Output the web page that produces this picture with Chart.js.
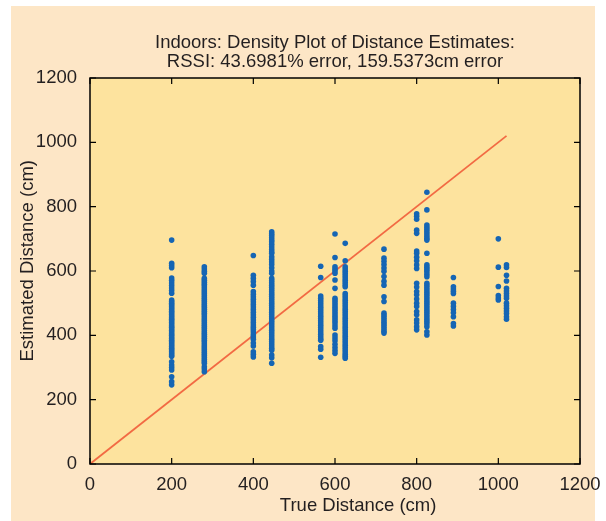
<!DOCTYPE html>
<html>
<head>
<meta charset="utf-8">
<title>Indoors: Density Plot of Distance Estimates</title>
<script src="https://cdn.jsdelivr.net/npm/chart.js@4.4.1/dist/chart.umd.min.js"></script>
<style>
  html, body { margin: 0; padding: 0; background: #fff; }
  #wrap { width: 606px; height: 521px; }
</style>
</head>
<body>
<div id="wrap"><canvas id="chart" width="606" height="521"></canvas></div>
<script>
// ── Data ──────────────────────────────────────────────────────
const titleLines = ['Indoors: Density Plot of Distance Estimates:', 'RSSI: 43.6981% error, 159.5373cm error'];
const axisTicks  = [0, 200, 400, 600, 800, 1000, 1200];

// true distances (cm) at which estimates were taken
const trueDistances = [200, 280, 400, 445, 565, 600, 625, 720, 800, 825, 890, 1000, 1020];

// estimated distances (cm), one list per true distance
const est200  = [696, 624, 617, 610, 578, 571, 563, 555, 547, 539, 531, 510, 505, 500, 495, 490, 485, 480, 475, 470, 465, 460, 455, 450, 445, 440, 435, 430, 425, 420, 415, 410, 405, 400, 395, 390, 385, 380, 375, 370, 365, 360, 355, 350, 345, 340, 335, 318, 308, 300, 292, 271, 256, 246];
const est280  = [613, 606, 599, 593, 577, 571, 565, 559, 553, 547, 541, 535, 529, 523, 517, 511, 505, 499, 493, 487, 481, 475, 469, 463, 457, 451, 445, 439, 433, 427, 421, 415, 409, 403, 397, 391, 385, 379, 373, 367, 361, 355, 349, 343, 337, 331, 325, 319, 313, 302, 295, 287];
const est400  = [648, 587, 577, 567, 556, 536, 528, 520, 512, 504, 496, 488, 480, 472, 464, 456, 448, 440, 432, 425, 418, 410, 402, 395, 388, 376, 367, 349, 341, 333];
const est445  = [722, 716, 710, 703, 696, 691, 683, 675, 667, 660, 655, 644, 636, 628, 620, 610, 600, 593, 577, 570, 563, 556, 549, 542, 535, 528, 521, 514, 507, 500, 493, 486, 479, 472, 465, 458, 451, 444, 437, 430, 423, 416, 409, 402, 395, 388, 381, 374, 367, 360, 354, 339, 330, 313];
const est565  = [615, 580, 522, 515, 508, 501, 494, 487, 480, 473, 466, 459, 452, 445, 438, 431, 424, 417, 410, 403, 396, 389, 385, 365, 357, 332];
const est600  = [715, 642, 613, 606, 600, 593, 572, 546, 515, 508, 501, 494, 487, 480, 473, 466, 459, 452, 445, 438, 430, 422, 401, 392, 383, 372, 362, 353, 344];
const est625  = [686, 632, 613, 606, 599, 592, 585, 578, 571, 564, 557, 551, 530, 523, 516, 509, 502, 495, 488, 481, 474, 467, 460, 453, 446, 439, 432, 425, 418, 411, 404, 397, 390, 383, 376, 369, 362, 355, 348, 341, 335, 329];
const est720  = [668, 640, 630, 620, 609, 599, 583, 568, 556, 520, 505, 469, 462, 455, 448, 441, 434, 427, 420, 413, 407];
const est800  = [778, 770, 761, 727, 717, 662, 655, 643, 632, 619, 608, 562, 550, 536, 526, 513, 500, 490, 474, 464, 448, 438, 427, 417];
const est825  = [845, 790, 743, 736, 729, 722, 715, 708, 701, 696, 655, 619, 612, 605, 598, 590, 582, 562, 555, 548, 541, 534, 527, 520, 513, 506, 499, 492, 485, 478, 471, 464, 457, 450, 443, 436, 427, 411, 401];
const est890  = [580, 551, 544, 537, 530, 500, 490, 480, 470, 458, 437, 429];
const est1000 = [700, 612, 552, 524, 516, 510];
const est1020 = [619, 611, 587, 569, 546, 538, 530, 522, 515, 500, 492, 484, 476, 468, 458, 450];

const estimates = [est200, est280, est400, est445, est565, est600, est625, est720, est800, est825, est890, est1000, est1020];

// ideal estimate line (y = x) over the measured range
const idealX = [0, 1020];

// ── Build points ──────────────────────────────────────────────
const scatterPts = [];
trueDistances.forEach((d, i) => {
  estimates[i].forEach(v => scatterPts.push({ x: d, y: v }));
});
const idealPts = idealX.map(v => ({ x: v, y: v }));

const FONT = 'Liberation Sans, Arial, Helvetica, sans-serif';
const FS   = 18.5;
const INK  = '#231f20';
const NB   = '\u00a0';

// background panels, frame and inward tick marks
const framePlugin = {
  id: 'frame',
  beforeDraw(chart) {
    const { ctx, chartArea: a } = chart;
    ctx.save();
    ctx.fillStyle = '#fde6c6';
    ctx.fillRect(11, 6, 584, chart.height - 6);
    ctx.fillStyle = '#fde39e';
    ctx.fillRect(a.left, a.top, a.right - a.left, a.bottom - a.top);
    ctx.restore();
  },
  afterDraw(chart) {
    const { ctx, chartArea: a, scales: { x, y } } = chart;
    const len = 6;
    ctx.save();
    ctx.strokeStyle = '#000';
    ctx.lineWidth = 1.5;
    ctx.strokeRect(a.left, a.top, a.right - a.left, a.bottom - a.top);
    ctx.lineWidth = 1.2;
    ctx.beginPath();
    axisTicks.forEach(v => {
      const px = x.getPixelForValue(v);
      ctx.moveTo(px, a.bottom); ctx.lineTo(px, a.bottom - len);
      ctx.moveTo(px, a.top);    ctx.lineTo(px, a.top + len);
      const py = y.getPixelForValue(v);
      ctx.moveTo(a.left, py);  ctx.lineTo(a.left + len, py);
      ctx.moveTo(a.right, py); ctx.lineTo(a.right - len, py);
    });
    ctx.stroke();
    ctx.restore();
  }
};

new Chart(document.getElementById('chart'), {
  type: 'scatter',
  data: {
    datasets: [
      {
        label: 'Estimates',
        data: scatterPts,
        backgroundColor: '#1565b4',
        borderWidth: 0,
        pointRadius: 2.8,
        order: 1,
      },
      {
        label: 'Ideal',
        type: 'line',
        data: idealPts,
        borderColor: '#f26a43',
        borderWidth: 1.8,
        pointRadius: 0,
        fill: false,
        order: 2,
      },
    ],
  },
  options: {
    responsive: false,
    animation: false,
    layout: { padding: { left: 11, right: 26, top: 0, bottom: 0 } },
    plugins: {
      legend: { display: false },
      tooltip: { enabled: false },
      title: {
        display: true,
        fullSize: false,
        text: titleLines,
        color: INK,
        font: { family: FONT, size: FS, weight: 'normal', lineHeight: 1.0 },
        padding: { top: 34, bottom: 7 },
      },
    },
    scales: {
      x: {
        type: 'linear',
        min: 0, max: 1200,
        afterFit: s => { s.height = 57; s.paddingLeft = 0; s.paddingRight = 0; },
        afterBuildTicks: s => { s.ticks = axisTicks.map(v => ({ value: v })); },
        grid: { display: false, drawTicks: false },
        border: { display: false },
        ticks: { color: INK, padding: 10, font: { family: FONT, size: FS }, callback: v => String(v) },
        title: {
          display: true,
          text: NB.repeat(9) + 'True Distance (cm)',
          color: INK,
          font: { family: FONT, size: FS, lineHeight: 1.2 },
          padding: { top: 0, bottom: 4 },
        },
      },
      y: {
        type: 'linear',
        min: 0, max: 1200,
        afterFit: s => { s.width = 79; s.paddingTop = 0; s.paddingBottom = 0; },
        afterBuildTicks: s => { s.ticks = axisTicks.map(v => ({ value: v })); },
        grid: { display: false, drawTicks: false },
        border: { display: false },
        ticks: { color: INK, padding: 13, font: { family: FONT, size: FS }, callback: v => String(v) },
        title: {
          display: true,
          text: NB.repeat(4) + 'Estimated Distance (cm)',
          color: INK,
          font: { family: FONT, size: FS, lineHeight: 1.2 },
          padding: { top: 6, bottom: 0 },
        },
      },
    },
  },
  plugins: [framePlugin],
});
</script>
</body>
</html>
